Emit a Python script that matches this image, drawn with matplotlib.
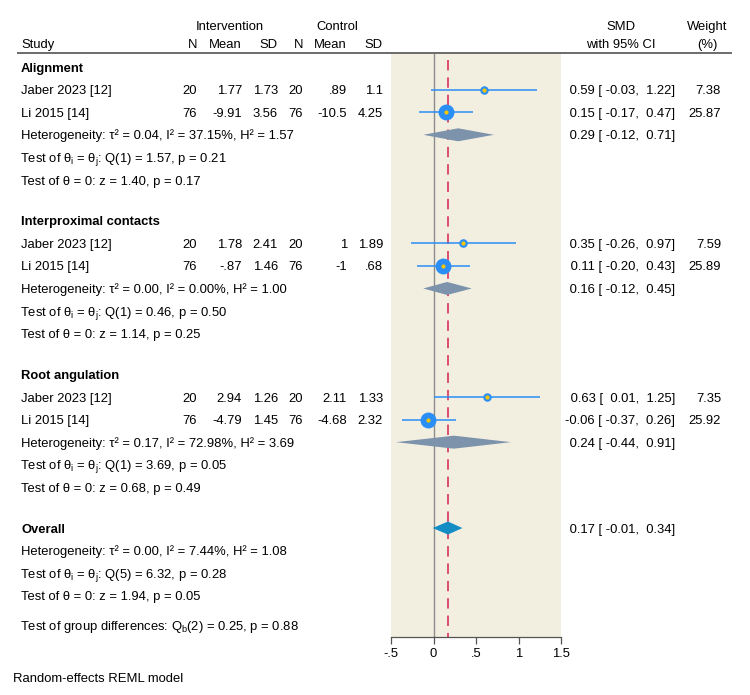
import matplotlib
matplotlib.use("Agg")
import matplotlib.pyplot as plt
from matplotlib.patches import Polygon
import numpy as np

plt.rcParams['font.family'] = ['Liberation Sans', 'DejaVu Sans']
plt.rcParams['mathtext.fontset'] = 'custom'
plt.rcParams['mathtext.rm'] = 'Liberation Sans'
plt.rcParams['mathtext.it'] = 'Liberation Sans:italic'
plt.rcParams['mathtext.bf'] = 'Liberation Sans:bold'
plt.rcParams['lines.scale_dashes'] = False

# ---------------- data ----------------
groups = ["Alignment", "Interproximal contacts", "Root angulation"]
studies = ["Jaber 2023 [12]", "Li 2015 [14]"]
n_int = [[20, 76], [20, 76], [20, 76]]
mean_int = [[1.77, -9.91], [1.78, -0.87], [2.94, -4.79]]
sd_int = [[1.73, 3.56], [2.41, 1.46], [1.26, 1.45]]
n_ctl = [[20, 76], [20, 76], [20, 76]]
mean_ctl = [[0.89, -10.5], [1, -1], [2.11, -4.68]]
sd_ctl = [[1.1, 4.25], [1.89, 0.68], [1.33, 2.32]]
smd = [[0.59, 0.15], [0.35, 0.11], [0.63, -0.06]]
smd_lo = [[-0.03, -0.17], [-0.26, -0.20], [0.01, -0.37]]
smd_hi = [[1.22, 0.47], [0.97, 0.43], [1.25, 0.26]]
weights = [[7.38, 25.87], [7.59, 25.89], [7.35, 25.92]]

grp_smd = [0.29, 0.16, 0.24]
grp_lo = [-0.12, -0.12, -0.44]
grp_hi = [0.71, 0.45, 0.91]
grp_tau2 = [0.04, 0.00, 0.17]
grp_I2 = [37.15, 0.00, 72.98]
grp_H2 = [1.57, 1.00, 3.69]
grp_Q = [1.57, 0.46, 3.69]
grp_Qdf = [1, 1, 1]
grp_Qp = [0.21, 0.50, 0.05]
grp_z = [1.40, 1.14, 0.68]
grp_zp = [0.17, 0.25, 0.49]

ov_smd, ov_lo, ov_hi = 0.17, -0.01, 0.34
ov_tau2, ov_I2, ov_H2 = 0.00, 7.44, 1.08
ov_Q, ov_Qdf, ov_Qp = 6.32, 5, 0.28
ov_z, ov_zp = 1.94, 0.05
qb, qb_df, qb_p = 0.25, 2, 0.88

xticks = [-0.5, 0, 0.5, 1, 1.5]
xticklabels = ["-.5", "0", ".5", "1", "1.5"]

# ---------------- style ----------------
FS = 9.4
W, H = 750, 695
beige = '#f2efe1'
blue = '#2a8ef5'
gold = '#f7c600'
grp_dia = '#7d92ab'
ov_dia = '#148cc4'
red = '#d93160'
BASE = 4.6  # baseline offset from row centre (px)


def fmt(v):
    s = f"{v:g}"
    if s.startswith("0."):
        s = s[1:]
    elif s.startswith("-0."):
        s = "-" + s[2:]
    return s


def ci(e, lo, hi):
    return f"{e:5.2f} [{lo:6.2f}, {hi:5.2f}]"


fig = plt.figure(figsize=(W / 100, H / 100), dpi=100)
fig.patch.set_facecolor('white')

# text overlay in pixel coordinates
tx = fig.add_axes([0, 0, 1, 1])
tx.set_xlim(0, W)
tx.set_ylim(H, 0)
tx.axis('off')
tx.patch.set_visible(False)


def T(x, y, s, ha='left', **kw):
    tx.text(x, y + BASE, s, fontsize=FS, ha=ha, va='baseline', **kw)


# plot axes
top, bot, left, right = 54, 637, 391, 561
ax = fig.add_axes([left / W, (H - bot) / H, (right - left) / W, (bot - top) / H])
ax.set_xlim(-0.5, 1.5)
ax.set_ylim(bot, top)
ax.set_facecolor(beige)
for s in ['top', 'right', 'left']:
    ax.spines[s].set_visible(False)
ax.spines['bottom'].set_color('#555555')
ax.spines['bottom'].set_linewidth(0.9)
ax.set_yticks([])
ax.set_xticks(xticks)
ax.set_xticklabels(xticklabels, fontsize=FS)
ax.tick_params(axis='x', length=5, width=0.9, color='#555555', pad=3)

# columns
x_study = 21
x_math = 19.5
col_right = [197, 242, 278, 303, 347, 383]
x_ci_right = 675
x_ci_center = 621
x_w_right = 721
x_w_center = 707

# header
T((181 + 278) / 2, 25.5, "Intervention", ha='center')
T((287 + 383) / 2 + 2, 25.5, "Control", ha='center')
T(x_study, 43, "Study")
for xr, lab in zip(col_right, ["N", "Mean", "SD", "N", "Mean", "SD"]):
    T(xr, 43, lab, ha='right')
T(x_ci_center, 25.5, "SMD", ha='center')
T(x_ci_center, 43, "with 95% CI", ha='center')
T(x_w_center, 25.5, "Weight", ha='center')
T(x_w_center, 43, "(%)", ha='center')
tx.plot([17, 732], [53, 53], color='#444444', lw=1.1, solid_capstyle='butt')

rh = 22.6
dia_h = 13
y = 67.0
for g in range(len(groups)):
    T(x_study, y, groups[g], fontweight='bold')
    y += rh
    for k in range(len(studies)):
        T(x_study, y, studies[k])
        vals = [str(n_int[g][k]), fmt(mean_int[g][k]), fmt(sd_int[g][k]),
                str(n_ctl[g][k]), fmt(mean_ctl[g][k]), fmt(sd_ctl[g][k])]
        for xr, v in zip(col_right, vals):
            T(xr, y, v, ha='right')
        T(x_ci_right, y, ci(smd[g][k], smd_lo[g][k], smd_hi[g][k]), ha='right')
        T(x_w_right, y, f"{weights[g][k]:.2f}", ha='right')
        ax.plot([smd_lo[g][k], smd_hi[g][k]], [y, y], color=blue, lw=1.1, zorder=3,
                solid_capstyle='butt')
        ax.plot([smd[g][k]], [y], 'o', color=blue, ms=2.25 * np.sqrt(weights[g][k]),
                mew=0, zorder=4)
        ax.plot([smd[g][k]], [y], 'o', color=gold, ms=3.0, mew=0, zorder=5)
        y += rh
    T(x_study, y, f"Heterogeneity: τ² = {grp_tau2[g]:.2f}, I² = {grp_I2[g]:.2f}%, H² = {grp_H2[g]:.2f}")
    T(x_ci_right, y, ci(grp_smd[g], grp_lo[g], grp_hi[g]), ha='right')
    ax.add_patch(Polygon([[grp_lo[g], y], [grp_smd[g], y - dia_h / 2], [grp_hi[g], y],
                          [grp_smd[g], y + dia_h / 2]], closed=True, facecolor=grp_dia,
                         edgecolor='none', zorder=3))
    y += rh
    T(x_math, y, r"Test of θ$_{\rm i}$ = θ$_{\rm j}$: " + f"Q({grp_Qdf[g]}) = {grp_Q[g]:.2f}, p = {grp_Qp[g]:.2f}")
    y += rh
    T(x_study, y, f"Test of θ = 0: z = {grp_z[g]:.2f}, p = {grp_zp[g]:.2f}")
    y += rh * 1.8

# overall
T(x_study, y, "Overall", fontweight='bold')
T(x_ci_right, y, ci(ov_smd, ov_lo, ov_hi), ha='right')
ax.add_patch(Polygon([[ov_lo, y], [ov_smd, y - dia_h / 2], [ov_hi, y], [ov_smd, y + dia_h / 2]],
                     closed=True, facecolor=ov_dia, edgecolor='none', zorder=3))
y += rh
T(x_study, y, f"Heterogeneity: τ² = {ov_tau2:.2f}, I² = {ov_I2:.2f}%, H² = {ov_H2:.2f}")
y += rh
T(x_math, y, r"Test of θ$_{\rm i}$ = θ$_{\rm j}$: " + f"Q({ov_Qdf}) = {ov_Q:.2f}, p = {ov_Qp:.2f}")
y += rh
T(x_study, y, f"Test of θ = 0: z = {ov_z:.2f}, p = {ov_zp:.2f}")
y += rh * 1.3
T(x_math, y, r"Test of group differences: Q$_{\rm b}$" + f"({qb_df}) = {qb:.2f}, p = {qb_p:.2f}")

T(13, 677, "Random-effects REML model")

# reference lines
ax.axvline(0, color='#8c8c8c', lw=1.0, zorder=2)
ax.plot([ov_smd, ov_smd], [top + 6, bot], color=red, lw=1.2, dashes=(7.5, 5), zorder=2.5)

fig.savefig("out.png", dpi=100, facecolor='white')
